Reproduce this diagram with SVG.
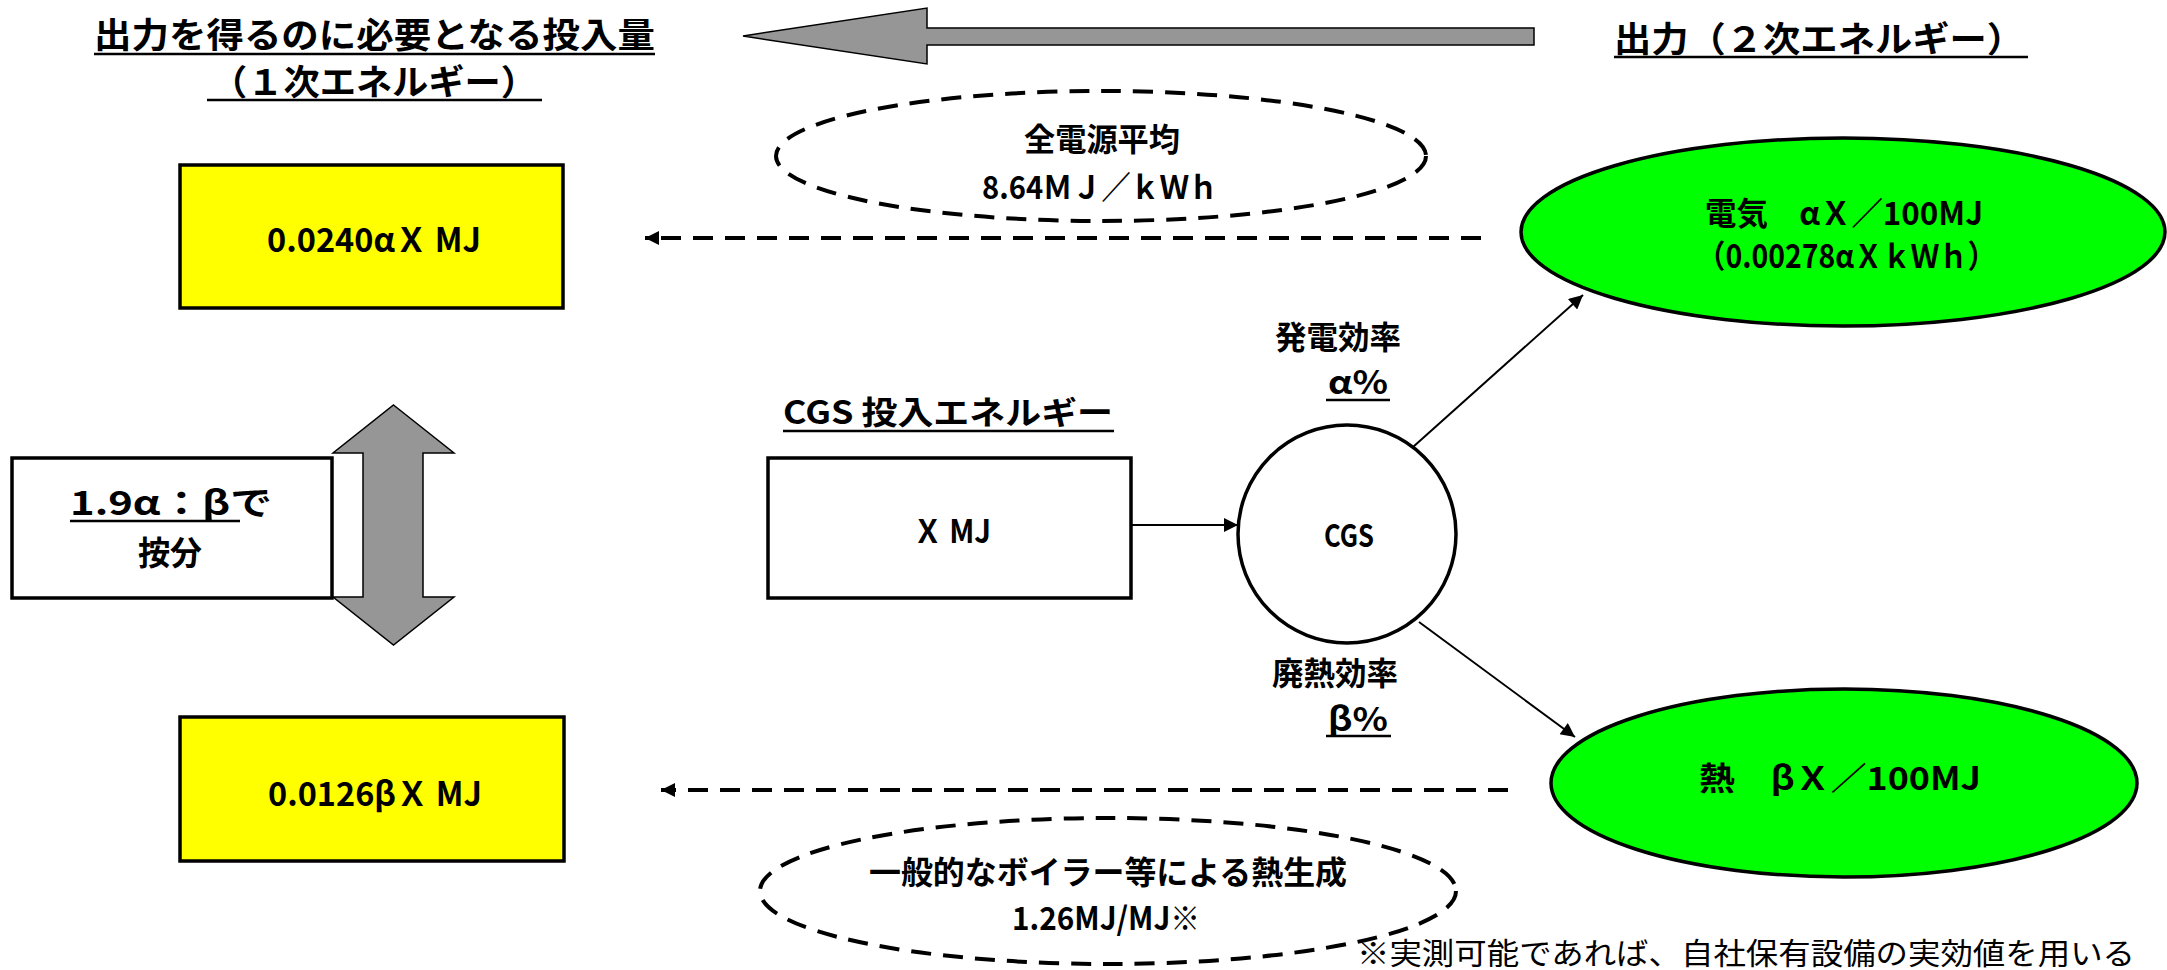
<svg xmlns="http://www.w3.org/2000/svg" width="2167" height="970" viewBox="0 0 2167 970">
<style>
text{font-family:"Noto Sans CJK JP","Noto Sans",sans-serif;font-weight:bold;fill:#000}
.t34{font-size:35px}
.t32{font-size:33px}
.t30{font-size:32px}
.t28{font-size:31px}
.fn{font-size:30px;font-weight:normal}
.ul{stroke:#000;stroke-width:2.5}
.box{stroke:#000;stroke-width:3.5}
.dash{fill:none;stroke:#000;stroke-width:4;stroke-dasharray:20 12}
.con{stroke:#000;stroke-width:2;fill:none}
.big{fill:#969696;stroke:#000;stroke-width:1.5}
</style>
<defs>
<marker id="ahs" viewBox="0 0 10 10" refX="10" refY="5" markerWidth="18" markerHeight="14" markerUnits="userSpaceOnUse" orient="auto"><path d="M0,0 L10,5 L0,10 z" fill="#000"/></marker>
<marker id="ahd" viewBox="0 0 10 10" refX="10" refY="5" markerWidth="16" markerHeight="14" markerUnits="userSpaceOnUse" orient="auto-start-reverse"><path d="M0,0 L10,5 L0,10 z" fill="#000"/></marker>
</defs>

<g id="title-left">
<text class="t34" x="94" y="48" textLength="561" lengthAdjust="spacingAndGlyphs">出力を得るのに必要となる投入量</text>
<line class="ul" x1="94" y1="54" x2="655" y2="54"/>
<text class="t34" x="211" y="95" textLength="326" lengthAdjust="spacingAndGlyphs">（１次エネルギー）</text>
<line class="ul" x1="207" y1="100" x2="542" y2="100"/>
</g>

<g id="title-right">
<text class="t34" x="1614" y="52" textLength="410" lengthAdjust="spacingAndGlyphs">出力（２次エネルギー）</text>
<line class="ul" x1="1614" y1="57" x2="2028" y2="57"/>
</g>

<g id="flow-arrow">
<polygon class="big" points="743,36 927,8 927,28 1534,28 1534,45 927,45 927,64"/>
</g>

<g id="grid-avg">
<ellipse class="dash" cx="1101" cy="156" rx="325" ry="65"/>
<text class="t30" x="1102" y="151" text-anchor="middle" textLength="156" lengthAdjust="spacingAndGlyphs">全電源平均</text>
<text class="t30" x="1100" y="199" text-anchor="middle" textLength="236" lengthAdjust="spacingAndGlyphs">8.64ＭＪ／ｋＷｈ</text>
</g>

<g id="input-elec">
<rect class="box" x="180" y="165" width="383" height="143" fill="#ffff00"/>
<text class="t32" x="267" y="252" textLength="214" lengthAdjust="spacingAndGlyphs">0.0240αＸ MJ</text>
</g>

<g id="input-heat">
<rect class="box" x="180" y="717" width="384" height="144" fill="#ffff00"/>
<text class="t32" x="268" y="806" textLength="214" lengthAdjust="spacingAndGlyphs">0.0126βＸ MJ</text>
</g>

<g id="ratio">
<rect class="box" x="12" y="458" width="320" height="140" fill="#fff"/>
<text class="t32" x="70" y="515" textLength="202" lengthAdjust="spacingAndGlyphs">1.9α：βで</text>
<line class="ul" x1="70" y1="521" x2="240" y2="521"/>
<text class="t32" x="170" y="565" text-anchor="middle" textLength="64" lengthAdjust="spacingAndGlyphs">按分</text>
</g>

<g id="split-arrow">
<polygon class="big" points="393.5,405 454,453 423,453 423,597 454,597 393.5,645 333,597 363,597 363,453 333,453"/>
</g>

<g id="cgs-input">
<text class="t30" x="783" y="424" textLength="330" lengthAdjust="spacingAndGlyphs">CGS 投入エネルギー</text>
<line class="ul" x1="783" y1="431" x2="1114" y2="431"/>
<rect class="box" x="768" y="458" width="363" height="140" fill="#fff"/>
<text class="t30" x="952" y="543" text-anchor="middle" textLength="78" lengthAdjust="spacingAndGlyphs">Ｘ MJ</text>
</g>

<g id="cgs">
<circle class="box" cx="1347" cy="534" r="109" fill="#fff"/>
<text class="t28" x="1349" y="547" text-anchor="middle" textLength="50" lengthAdjust="spacingAndGlyphs">CGS</text>
</g>

<g id="eff-elec">
<text class="t30" x="1338" y="349" text-anchor="middle" textLength="126" lengthAdjust="spacingAndGlyphs">発電効率</text>
<text class="t30" x="1358" y="394" text-anchor="middle" textLength="60" lengthAdjust="spacingAndGlyphs">α%</text>
<line class="ul" x1="1326" y1="400" x2="1390" y2="400"/>
</g>

<g id="eff-heat">
<text class="t30" x="1335" y="685" text-anchor="middle" textLength="126" lengthAdjust="spacingAndGlyphs">廃熱効率</text>
<text class="t30" x="1358" y="731" text-anchor="middle" textLength="60" lengthAdjust="spacingAndGlyphs">β%</text>
<line class="ul" x1="1326" y1="736" x2="1391" y2="736"/>
</g>

<g id="out-elec">
<ellipse class="box" cx="1843" cy="232" rx="322" ry="94" fill="#00ff00"/>
<text class="t30" x="1705" y="225" textLength="278" lengthAdjust="spacingAndGlyphs">電気　αＸ／100MJ</text>
<text class="t30" x="1697" y="268" textLength="299" lengthAdjust="spacingAndGlyphs">（0.00278αＸｋＷｈ）</text>
</g>

<g id="out-heat">
<ellipse class="box" cx="1844" cy="783" rx="293" ry="94" fill="#00ff00"/>
<text class="t30" x="1699" y="790" textLength="282" lengthAdjust="spacingAndGlyphs">熱　βＸ／100MJ</text>
</g>

<g id="boiler">
<ellipse class="dash" cx="1108" cy="891" rx="348" ry="73"/>
<text class="t30" x="869" y="884" textLength="478" lengthAdjust="spacingAndGlyphs">一般的なボイラー等による熱生成</text>
<text class="t30" x="1012" y="930" textLength="188" lengthAdjust="spacingAndGlyphs">1.26MJ/MJ※</text>
</g>

<g id="footnote">
<text class="fn" x="1357" y="964" textLength="778" lengthAdjust="spacingAndGlyphs">※実測可能であれば、自社保有設備の実効値を用いる</text>
</g>

<g id="connectors">
<line class="con" x1="1131" y1="525" x2="1238" y2="525" marker-end="url(#ahs)"/>
<line class="con" x1="1413" y1="447" x2="1583" y2="295" marker-end="url(#ahs)"/>
<line class="con" x1="1419" y1="622" x2="1575" y2="737" marker-end="url(#ahs)"/>
<line class="dash" x1="1481" y1="238" x2="645" y2="238" marker-end="url(#ahd)"/>
<line class="dash" x1="1508" y1="790" x2="661" y2="790" marker-end="url(#ahd)"/>
</g>
</svg>
